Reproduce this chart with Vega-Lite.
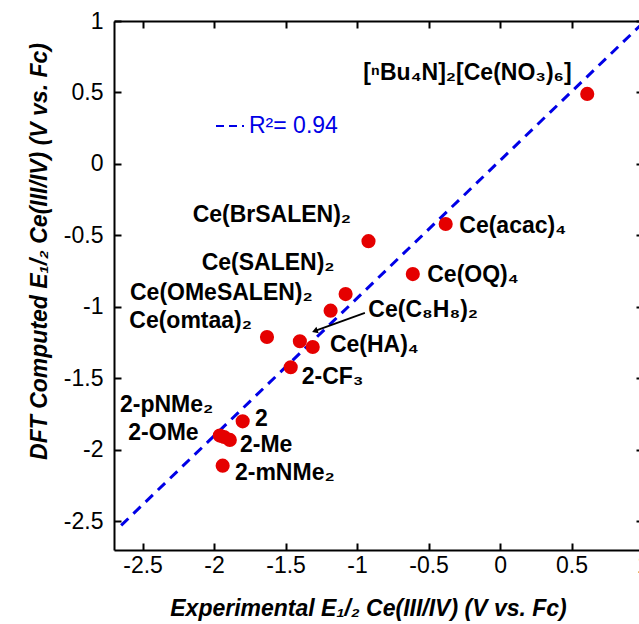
{
  "$schema": "https://vega.github.io/schema/vega-lite/v6.json",
  "width": 529,
  "height": 529,
  "autosize": {"type": "none"},
  "padding": {"left": 114, "top": 21, "right": 0, "bottom": 74},
  "background": "white",
  "config": {"view": {"stroke": null}, "font": "Liberation Sans"},
  "datasets": {
    "fit": [
      {"x": -2.65, "y": -2.528, "series": "R²= 0.94"},
      {"x": 1.0, "y": 0.987, "series": "R²= 0.94"}
    ],
    "pts": [
      {"name": "[nBu4N]2[Ce(NO3)6]", "x": 0.61, "y": 0.49, "label": "[ⁿBu₄N]₂[Ce(NO₃)₆]", "lx": -0.957, "ly": 0.587},
      {"name": "Ce(acac)4", "x": -0.38, "y": -0.42, "label": "Ce(acac)₄", "lx": -0.285, "ly": -0.483},
      {"name": "Ce(BrSALEN)2", "x": -0.92, "y": -0.54, "label": "Ce(BrSALEN)₂", "lx": -2.15, "ly": -0.403},
      {"name": "Ce(OQ)4", "x": -0.61, "y": -0.77, "label": "Ce(OQ)₄", "lx": -0.509, "ly": -0.823},
      {"name": "Ce(SALEN)2", "x": -1.08, "y": -0.91, "label": "Ce(SALEN)₂", "lx": -2.087, "ly": -0.741},
      {"name": "Ce(OMeSALEN)2", "x": -1.185, "y": -1.026, "label": "Ce(OMeSALEN)₂", "lx": -2.588, "ly": -0.951},
      {"name": "Ce(omtaa)2", "x": -1.63, "y": -1.21, "label": "Ce(omtaa)₂", "lx": -2.593, "ly": -1.149},
      {"name": "Ce(C8H8)2", "x": -1.40, "y": -1.24, "label": "Ce(C₈H₈)₂", "lx": -0.921, "ly": -1.068},
      {"name": "Ce(HA)4", "x": -1.31, "y": -1.28, "label": "Ce(HA)₄", "lx": -1.19, "ly": -1.313},
      {"name": "2-CF3", "x": -1.464, "y": -1.422, "label": "2-CF₃", "lx": -1.387, "ly": -1.538},
      {"name": "2", "x": -1.80, "y": -1.80, "label": "2", "lx": -1.714, "ly": -1.832},
      {"name": "2-pNMe2", "x": -1.96, "y": -1.90, "label": "2-pNMe₂", "lx": -2.658, "ly": -1.732},
      {"name": "2-OMe", "x": -1.93, "y": -1.91, "label": "2-OMe", "lx": -2.60, "ly": -1.93},
      {"name": "2-Me", "x": -1.89, "y": -1.93, "label": "2-Me", "lx": -1.819, "ly": -2.012},
      {"name": "2-mNMe2", "x": -1.94, "y": -2.11, "label": "2-mNMe₂", "lx": -1.854, "ly": -2.21}
    ],
    "arrow": [
      {"x": -0.945, "y": -1.042, "x2": -1.289, "y2": -1.166}
    ]
  },
  "layer": [
    {
      "data": {"name": "fit"},
      "mark": {"type": "line", "strokeDash": [10, 7], "strokeWidth": 3},
      "encoding": {
        "x": {
          "field": "x", "type": "quantitative",
          "scale": {"domain": [-2.7, 1], "nice": false, "zero": false},
          "axis": {
            "orient": "bottom",
            "values": [-2.5, -2, -1.5, -1, -0.5, 0, 0.5, 1],
            "format": "~g",
            "labelExpr": "replace(datum.label, '−', '-')",
            "grid": false,
            "domainColor": "black", "domainWidth": 2,
            "tickColor": "black", "tickWidth": 2, "tickSize": -7,
            "labelPadding": 11, "labelFlush": false, "labelOverlap": false,
            "labelFont": "Liberation Sans", "labelFontSize": 23, "labelColor": "black",
            "title": "Experimental E₁/₂ Ce(III/IV) (V vs. Fc)",
            "titleFont": "Liberation Sans", "titleFontSize": 23,
            "titleFontWeight": "bold", "titleFontStyle": "italic",
            "titleColor": "black", "titlePadding": 20, "titleX": 254
          }
        },
        "y": {
          "field": "y", "type": "quantitative",
          "scale": {"domain": [-2.7, 1], "nice": false, "zero": false},
          "axis": {
            "orient": "left",
            "values": [-2.5, -2, -1.5, -1, -0.5, 0, 0.5, 1],
            "format": "~g",
            "labelExpr": "replace(datum.label, '−', '-')",
            "grid": false,
            "domainColor": "black", "domainWidth": 2,
            "tickColor": "black", "tickWidth": 2, "tickSize": -7,
            "labelPadding": 18, "labelFlush": false, "labelOverlap": false,
            "labelFont": "Liberation Sans", "labelFontSize": 23, "labelColor": "black",
            "title": "DFT Computed E₁/₂ Ce(III/IV) (V vs. Fc)",
            "titleFont": "Liberation Sans", "titleFontSize": 23,
            "titleFontWeight": "bold", "titleFontStyle": "italic",
            "titleColor": "black", "titlePadding": 12, "titleY": 230
          }
        },
        "color": {
          "field": "series", "type": "nominal",
          "scale": {"range": ["#0000e6"]},
          "legend": {
            "orient": "none", "legendX": 101, "legendY": 90,
            "title": null, "padding": 0,
            "symbolType": "stroke", "symbolDash": [8, 5], "symbolStrokeWidth": 2,
            "symbolSize": 784, "symbolStrokeColor": "#0000e6",
            "labelFont": "Liberation Sans", "labelFontSize": 23,
            "labelColor": "#0000e6", "labelOffset": 4, "labelLimit": 300
          }
        }
      }
    },
    {
      "data": {"name": "fit"},
      "mark": {"type": "point", "opacity": 0},
      "encoding": {
        "x": {
          "field": "x", "type": "quantitative",
          "scale": {"domain": [-2.7, 1], "nice": false, "zero": false},
          "axis": {
            "orient": "top", "values": [-2.5, -2, -1.5, -1, -0.5, 0, 0.5, 1],
            "labels": false, "title": null, "grid": false,
            "domainColor": "black", "domainWidth": 2,
            "tickColor": "black", "tickWidth": 2, "tickSize": -7
          }
        },
        "y": {
          "field": "y", "type": "quantitative",
          "scale": {"domain": [-2.7, 1], "nice": false, "zero": false},
          "axis": {
            "orient": "right", "values": [-2.5, -2, -1.5, -1, -0.5, 0, 0.5, 1],
            "labels": false, "title": null, "grid": false,
            "domainColor": "black", "domainWidth": 2,
            "tickColor": "black", "tickWidth": 2, "tickSize": -7
          }
        }
      }
    },
    {
      "data": {"name": "arrow"},
      "mark": {"type": "rule", "color": "black", "strokeWidth": 1.8},
      "encoding": {
        "x": {"field": "x", "type": "quantitative", "scale": {"domain": [-2.7, 1], "nice": false, "zero": false}, "axis": null},
        "y": {"field": "y", "type": "quantitative", "scale": {"domain": [-2.7, 1], "nice": false, "zero": false}, "axis": null},
        "x2": {"field": "x2"},
        "y2": {"field": "y2"}
      }
    },
    {
      "data": {"name": "arrow"},
      "mark": {"type": "point", "shape": "triangle", "filled": true, "color": "black", "size": 45, "angle": 250, "opacity": 1},
      "encoding": {
        "x": {"field": "x2", "type": "quantitative", "scale": {"domain": [-2.7, 1], "nice": false, "zero": false}, "axis": null},
        "y": {"field": "y2", "type": "quantitative", "scale": {"domain": [-2.7, 1], "nice": false, "zero": false}, "axis": null}
      }
    },
    {
      "data": {"name": "pts"},
      "mark": {"type": "circle", "size": 200, "color": "#e50000", "opacity": 1},
      "encoding": {
        "x": {"field": "x", "type": "quantitative", "scale": {"domain": [-2.7, 1], "nice": false, "zero": false}, "axis": null},
        "y": {"field": "y", "type": "quantitative", "scale": {"domain": [-2.7, 1], "nice": false, "zero": false}, "axis": null}
      }
    },
    {
      "data": {"name": "pts"},
      "mark": {"type": "text", "align": "left", "baseline": "alphabetic", "font": "Liberation Sans", "fontSize": 23, "fontWeight": "bold", "color": "black"},
      "encoding": {
        "x": {"field": "lx", "type": "quantitative", "scale": {"domain": [-2.7, 1], "nice": false, "zero": false}, "axis": null},
        "y": {"field": "ly", "type": "quantitative", "scale": {"domain": [-2.7, 1], "nice": false, "zero": false}, "axis": null},
        "text": {"field": "label"}
      }
    }
  ],
  "resolve": {"axis": {"x": "independent", "y": "independent"}}
}
